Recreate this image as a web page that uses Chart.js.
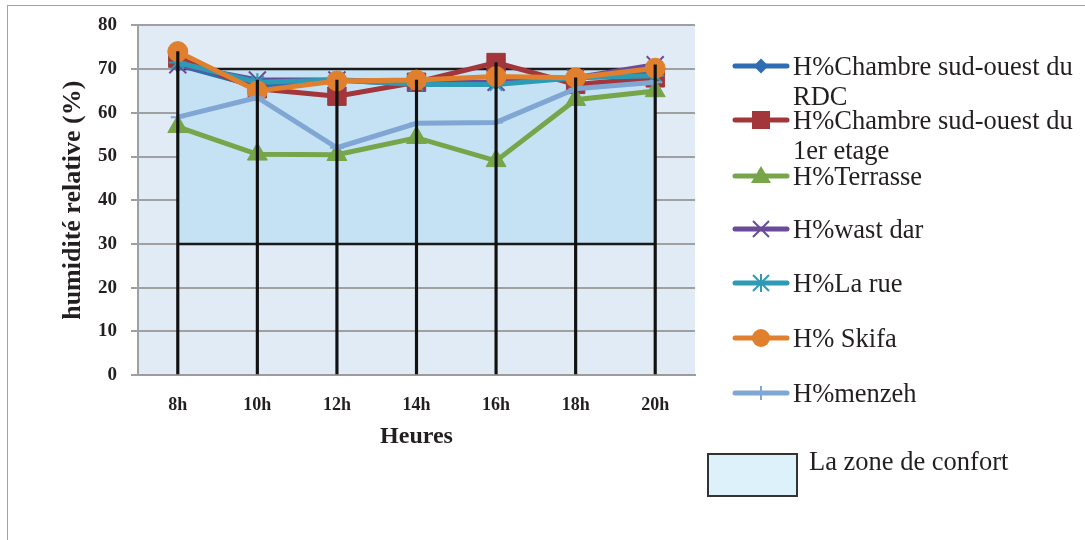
<!DOCTYPE html>
<html>
<head>
<meta charset="utf-8">
<script src="https://cdn.jsdelivr.net/npm/chart.js@4/dist/chart.umd.min.js"></script>
<style>
  html, body { margin: 0; padding: 0; background: #fff; }
  #wrap { position: relative; width: 1085px; height: 540px; overflow: hidden; }
  #frame { position: absolute; left: 7px; top: 5px; right: -5px; bottom: -5px;
           border-left: 1.5px solid #a3a3a3; border-top: 1.5px solid #a3a3a3; }
  #chartBox { position: absolute; left: 0; top: 0; width: 1085px; height: 540px; }
  .entry { position: absolute; left: 730px; white-space: nowrap;
           font-family: "Liberation Serif", "DejaVu Serif", serif; font-size: 26.5px;
           line-height: 30px; color: #231f20; }
  .entry svg { position: absolute; left: 0; top: 5px; }
  .entry .txt { position: absolute; left: 63px; top: 0; }
  #zone { position: absolute; left: 707px; top: 453px; width: 87px; height: 40px;
          background: #dcf1f9; border: 2px solid #333; }
  #zoneTxt { position: absolute; left: 809px; top: 446px; white-space: nowrap;
             font-family: "Liberation Serif", "DejaVu Serif", serif; font-size: 26.5px;
             line-height: 30px; color: #231f20; }
</style>
</head>
<body>
<div id="wrap">
  <div id="frame"></div>
  <div id="chartBox"><canvas id="c"></canvas></div>
  <div id="legend"></div>
  <div id="zone"></div>
  <div id="zoneTxt">La zone de confort</div>
</div>
<script>
// Hours of measurement
const heures = ['8h', '10h', '12h', '14h', '16h', '18h', '20h'];

// Relative humidity (%) per location
const chambreRdc   = [71, 66, 67.5, 66.5, 67, 68, 69];
const chambre1er   = [72.5, 65.5, 63.8, 67, 71.5, 66.5, 68];
const terrasse     = [56.8, 50.5, 50.4, 54.3, 49, 63, 65];
const wastDar      = [71, 67.5, 67.5, 67, 67, 68, 71];
const laRue        = [71.5, 67, 67.5, 66.5, 66.5, 68, 68.5];
const skifa        = [74, 65, 67.3, 67.5, 68.3, 68, 70.2];
const menzeh       = [59, 63.5, 52, 57.6, 57.8, 65.5, 67];

// Comfort zone bounds (%)
const confortHaut = 70;
const confortBas = 30;

// Y axis range
const yMin = 0, yMax = 80, yStep = 10;

const series = [
  { label: ['H%Chambre sud-ouest du', 'RDC'], data: chambreRdc, color: '#2f6db3', style: 'rectRot', r: 7.5, bw: 1 },
  { label: ['H%Chambre sud-ouest du', '1er etage'], data: chambre1er, color: '#a3363a', style: 'rect', r: 13, bw: 1 },
  { label: ['H%Terrasse'], data: terrasse, color: '#76a54a', style: 'triangle', r: 11.5, bw: 1 },
  { label: ['H%wast dar'], data: wastDar, color: '#6b4b99', style: 'crossRot', r: 12, bw: 2 },
  { label: ['H%La rue'], data: laRue, color: '#2d9ab6', style: 'star', r: 9, bw: 2 },
  { label: ['H% Skifa'], data: skifa, color: '#e0802e', style: 'circle', r: 10, bw: 1 },
  { label: ['H%menzeh'], data: menzeh, color: '#80a6d4', style: 'cross', r: 7, bw: 2 }
];

// Drop lines run from the axis up to the highest reading of each hour
const hautsParHeure = heures.map((_, i) => Math.max(...series.map(s => s.data[i])));

const serif = '"Liberation Serif", "DejaVu Serif", serif';

const plotBackground = {
  id: 'plotBackground',
  beforeDraw(chart) {
    const { ctx, chartArea: a } = chart;
    ctx.save();
    ctx.fillStyle = '#e1ebf5';
    ctx.fillRect(a.left, a.top, a.right - a.left, a.bottom - a.top);
    ctx.restore();
  }
};

const datasets = [];

// Vertical drop lines (drawn on top)
datasets.push({
  type: 'bar',
  data: hautsParHeure.map(v => [yMin, v]),
  backgroundColor: '#111',
  borderWidth: 0,
  barThickness: 2.5,
  order: 0
});

series.forEach((s, i) => {
  datasets.push({
    type: 'line',
    data: s.data,
    borderColor: s.color,
    backgroundColor: s.color,
    borderWidth: 5,
    pointStyle: s.style,
    pointRadius: s.r,
    pointBorderWidth: s.bw,
    pointBackgroundColor: s.color,
    pointBorderColor: s.color,
    tension: 0,
    fill: false,
    order: series.length - i
  });
});

// Comfort zone band between the two bounds
datasets.push({
  type: 'line',
  data: heures.map(() => confortHaut),
  borderColor: '#1a1a1a',
  borderWidth: 2.5,
  backgroundColor: '#c4e2f3',
  pointRadius: 0,
  fill: { value: confortBas },
  order: 20
});
datasets.push({
  type: 'line',
  data: heures.map(() => confortBas),
  borderColor: '#1a1a1a',
  borderWidth: 2.5,
  pointRadius: 0,
  fill: false,
  order: 19
});

new Chart(document.getElementById('c'), {
  data: { labels: heures, datasets },
  plugins: [plotBackground],
  options: {
    responsive: true,
    maintainAspectRatio: false,
    animation: false,
    events: [],
    layout: { padding: { left: 59, top: 22, right: 390, bottom: 89 } },
    plugins: { legend: { display: false }, tooltip: { enabled: false } },
    scales: {
      x: {
        offset: true,
        grid: { display: false },
        border: { display: true, color: '#9c9c9c', width: 2 },
        ticks: { color: '#231f20', padding: 12, font: { family: serif, size: 18, weight: 'bold' } },
        title: { display: true, text: 'Heures', color: '#231f20', padding: 0,
                 font: { family: serif, size: 24, weight: 'bold', lineHeight: 1.2 } },
        afterFit(scale) { scale.height = 76; }
      },
      y: {
        min: yMin, max: yMax,
        ticks: { stepSize: yStep, color: '#231f20', padding: 14,
                 font: { family: serif, size: 19, weight: 'bold' } },
        grid: { color: '#a0a0a0', lineWidth: 2, tickLength: 7 },
        border: { display: true, color: '#a0a0a0', width: 2 },
        title: { display: true, text: 'humidité relative (%)', color: '#231f20', padding: 0,
                 font: { family: serif, size: 26, weight: 'bold', lineHeight: 1.1 } },
        afterFit(scale) { scale.width = 79; }
      }
    }
  }
});

// Legend entries on the right
function markerSvg(s) {
  const c = s.color, cx = 31, cy = 10;
  let m = '';
  switch (s.style) {
    case 'rectRot': m = `<polygon points="${cx-7.5},${cy} ${cx},${cy-7.5} ${cx+7.5},${cy} ${cx},${cy+7.5}" fill="${c}"/>`; break;
    case 'rect': m = `<rect x="${cx-9}" y="${cy-9}" width="18" height="18" fill="${c}"/>`; break;
    case 'triangle': m = `<polygon points="${cx},${cy-10} ${cx+10},${cy+7} ${cx-10},${cy+7}" fill="${c}"/>`; break;
    case 'crossRot': m = `<path d="M${cx-8},${cy-8} L${cx+8},${cy+8} M${cx+8},${cy-8} L${cx-8},${cy+8}" stroke="${c}" stroke-width="2"/>`; break;
    case 'star': m = `<path d="M${cx-8},${cy-8} L${cx+8},${cy+8} M${cx+8},${cy-8} L${cx-8},${cy+8} M${cx},${cy-9} L${cx},${cy+9}" stroke="${c}" stroke-width="2"/>`; break;
    case 'circle': m = `<circle cx="${cx}" cy="${cy}" r="9" fill="${c}"/>`; break;
    case 'cross': m = `<path d="M${cx},${cy-7} L${cx},${cy+7}" stroke="${c}" stroke-width="2"/>`; break;
  }
  return `<svg width="62" height="20" viewBox="0 0 62 20">
    <line x1="5" y1="${cy}" x2="57" y2="${cy}" stroke="${c}" stroke-width="5" stroke-linecap="round"/>${m}</svg>`;
}

const legendTops = [51, 105, 161, 214, 268, 323, 378];
const legend = document.getElementById('legend');
series.forEach((s, i) => {
  const e = document.createElement('div');
  e.className = 'entry';
  e.style.top = legendTops[i] + 'px';
  e.innerHTML = markerSvg(s) + `<div class="txt">${s.label.join('<br>')}</div>`;
  legend.appendChild(e);
});
</script>
</body>
</html>
